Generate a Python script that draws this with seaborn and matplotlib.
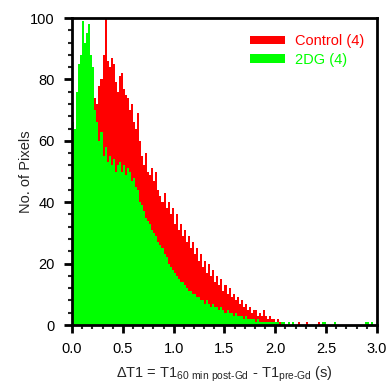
import matplotlib
matplotlib.use("Agg")
import matplotlib.pyplot as plt
from matplotlib.patches import Patch
from matplotlib.ticker import MultipleLocator
import numpy as np
import pandas as pd
import seaborn as sns

# histogram bins: 0.02 s wide, 0 .. 3.0 s
bin_width = 0.02
bin_left = np.round(np.arange(0, 3.0, bin_width), 3)

control_counts = [
    30, 38, 45, 50, 55, 60, 63, 65, 68, 70,
    72, 74, 72, 78, 80, 88, 100, 86, 84, 87,
    85, 79, 76, 81, 82, 77, 75, 74, 70, 72,
    66, 64, 69, 60, 55, 52, 56, 50, 49, 51,
    47, 50, 44, 42, 40, 43, 38, 40, 36, 38,
    33, 36, 31, 33, 29, 31, 27, 29, 25, 27,
    23, 25, 21, 23, 19, 21, 17, 20, 16, 18,
    14, 16, 13, 15, 11, 13, 10, 12, 9, 10,
    8, 9, 7, 8, 6, 7, 5, 6, 4, 5,
    5, 3, 4, 3, 5, 3, 2, 3, 2, 2,
    1, 2, 1, 1, 1, 0, 1, 0, 1, 0,
    0, 1, 0, 0, 0, 1, 0, 0, 0, 0,
    0, 1, 0, 0, 0, 0, 0, 0, 0, 0,
    0, 0, 0, 0, 0, 0, 0, 0, 0, 0,
    0, 0, 0, 0, 0, 0, 0, 0, 0, 0,
]

dg_counts = [
    66, 64, 76, 85, 88, 99, 92, 95, 98, 88,
    84, 70, 66, 60, 63, 55, 58, 53, 55, 52,
    54, 50, 52, 53, 50, 52, 49, 51, 50, 47,
    48, 45, 44, 40, 39, 37, 35, 34, 33, 31,
    30, 29, 27, 26, 25, 23, 22, 20, 19, 18,
    17, 16, 15, 14, 14, 13, 12, 11, 11, 10,
    10, 9, 9, 8, 8, 7, 8, 7, 6, 7,
    6, 6, 5, 6, 5, 4, 5, 4, 4, 3,
    4, 3, 3, 3, 2, 3, 2, 2, 2, 2,
    1, 2, 1, 1, 1, 1, 1, 1, 1, 1,
    1, 1, 0, 1, 1, 0, 1, 0, 1, 0,
    0, 0, 0, 0, 0, 0, 0, 0, 0, 0,
    0, 0, 0, 1, 1, 0, 0, 0, 0, 1,
    0, 0, 0, 0, 0, 0, 0, 0, 0, 0,
    0, 0, 0, 0, 1, 1, 0, 1, 0, 0,
]

series_labels = ["Control (4)", "2DG (4)"]
series_colors = ["#ff0000", "#00ff00"]

sns.set_style("ticks")
plt.rcParams["font.family"] = ["Liberation Sans", "DejaVu Sans"]
plt.rcParams["mathtext.fontset"] = "custom"
plt.rcParams["mathtext.rm"] = "Liberation Sans"

fig = plt.figure(figsize=(3.88, 3.83), dpi=100)
ax = fig.add_axes([0.1856, 0.1514, 0.786, 0.8016])

for counts, color in zip([control_counts, dg_counts], series_colors):
    df = pd.DataFrame({"dt1": bin_left + bin_width / 2, "count": counts})
    sns.histplot(data=df, x="dt1", weights="count", binwidth=bin_width, binrange=(0, 3.0),
                 element="step", fill=True, color=color, alpha=1, linewidth=0, ax=ax)

ax.set_xlim(0, 3.0)
ax.set_ylim(0, 100)
ax.xaxis.set_major_locator(MultipleLocator(0.5))
ax.xaxis.set_minor_locator(MultipleLocator(0.1))
ax.yaxis.set_major_locator(MultipleLocator(20))
ax.yaxis.set_minor_locator(MultipleLocator(4))
ax.xaxis.set_major_formatter(plt.FormatStrFormatter("%.1f"))
ax.tick_params(which="major", direction="out", length=5.5, width=2, labelsize=10.5, colors="black")
ax.tick_params(which="minor", direction="out", length=3, width=1.5)
ax.tick_params(axis="x", which="major", pad=6.5)
ax.tick_params(axis="y", which="major", pad=7)
ax.tick_params(top=False, right=False, which="both")
for side in ["left", "right", "top", "bottom"]:
    ax.spines[side].set_visible(True)
    ax.spines[side].set_linewidth(2)
    ax.spines[side].set_color("black")

ax.set_ylabel("No. of Pixels", fontsize=10.5, labelpad=-2.5)
ax.set_xlabel(r"ΔT1 = T1$_{\mathregular{60\ min\ post}\text{-}\mathregular{Gd}}$ - T1$_{\mathregular{pre}\text{-}\mathregular{Gd}}$ (s)",
              fontsize=10.5, labelpad=6)

handles = [Patch(facecolor=c, edgecolor="none") for c in series_colors]
leg = ax.legend(handles, series_labels, loc="upper right", frameon=False, fontsize=10.5,
                handlelength=2.4, handleheight=0.55, handletextpad=0.65, labelspacing=0.3,
                bbox_to_anchor=(1.0, 0.99))
for text, c in zip(leg.get_texts(), series_colors):
    text.set_color(c)

fig.savefig("out.png", dpi=100)
